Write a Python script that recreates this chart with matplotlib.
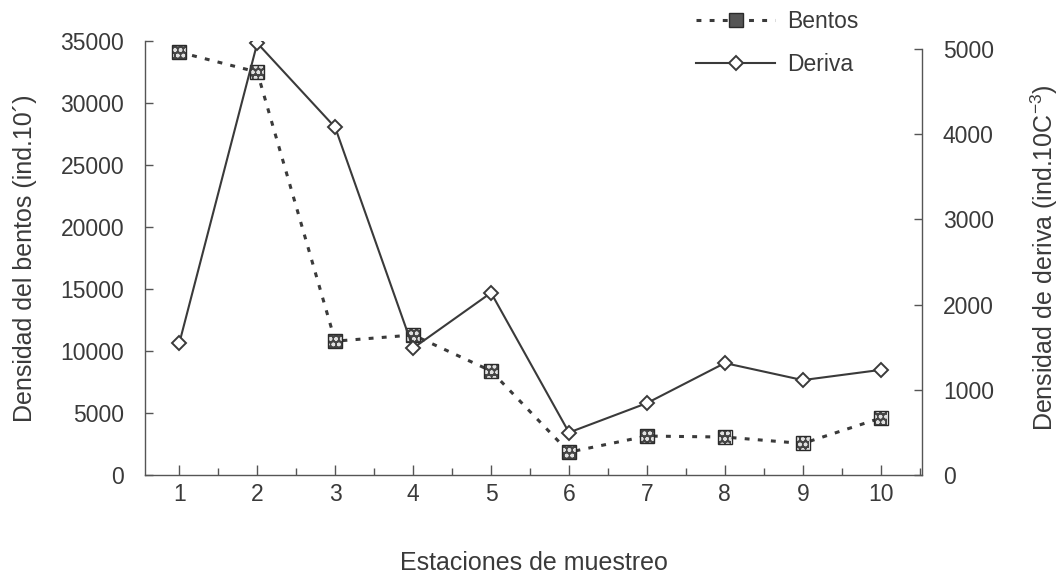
import matplotlib
matplotlib.use('Agg')
import matplotlib.pyplot as plt
from matplotlib.lines import Line2D
from matplotlib.ticker import MultipleLocator, FixedLocator

# sampling stations and densities
estaciones = [1, 2, 3, 4, 5, 6, 7, 8, 9, 10]
bentos = [34100, 32500, 10800, 11300, 8400, 1850, 3150, 3070, 2550, 4600]
deriva = [1550, 5070, 4080, 1490, 2140, 500, 845, 1315, 1115, 1235]

plt.rcParams['font.family'] = ['Liberation Sans', 'DejaVu Sans']
gris = '#3a3a3a'

fig = plt.figure(figsize=(10.61, 5.78), dpi=100)
ax = fig.add_axes([0.1367, 0.178, 0.7323, 0.751])
ax2 = ax.twinx()

# benthos: dotted line with dark checkered squares
ax.plot(estaciones, bentos, color=gris, lw=2.2, linestyle=(0, (1.6, 2.7)), zorder=2)
ax.scatter(estaciones, bentos, marker='s', s=90, facecolor='#454545',
           edgecolor='#e0e0e0', hatch='ooo', linewidths=0, zorder=3)
ax.plot(estaciones, bentos, linestyle='none', marker='s', ms=9.5,
        mfc='none', mec='#2a2a2a', mew=1.0, zorder=4)

# drift: solid line with open diamonds
ax2.plot(estaciones, deriva, color=gris, lw=1.5, marker='D', ms=7.5,
         mfc='white', mec=gris, mew=1.4, zorder=3)

ax.set_xlim(0.56, 10.53)
ax.set_ylim(0, 35000)
ax2.set_ylim(0, 5094)

ax.xaxis.set_major_locator(FixedLocator(estaciones))
ax.xaxis.set_minor_locator(FixedLocator([x + 0.5 for x in estaciones]))
ax.yaxis.set_major_locator(MultipleLocator(5000))
ax2.yaxis.set_major_locator(MultipleLocator(1000))

for a in (ax, ax2):
    a.spines['top'].set_visible(False)
    for s in a.spines.values():
        s.set_color('#555555')
        s.set_linewidth(1.0)
ax.spines['right'].set_visible(False)
ax2.spines['left'].set_visible(False)
ax2.spines['bottom'].set_visible(False)
ax2.spines['right'].set_bounds(0, 5000)

ax.tick_params(axis='x', which='major', direction='in', length=7, width=1,
               color='#555555', pad=6, labelsize=16.5, labelcolor=gris)
ax.tick_params(axis='x', which='minor', direction='in', length=5, width=1,
               color='#555555')
ax.tick_params(axis='y', direction='in', length=6, width=1, color='#555555',
               pad=15, labelsize=16.5, labelcolor=gris)
ax2.tick_params(axis='y', direction='in', length=6, width=1, color='#555555',
                pad=15, labelsize=16.5, labelcolor=gris)

ax.set_xlabel('Estaciones de muestreo', fontsize=18, color=gris, labelpad=32)
ax.set_ylabel('Densidad del bentos (ind.10´)', fontsize=18, color=gris, labelpad=17)
ax2.set_ylabel(r'Densidad de deriva (ind.10C$\mathregular{^{-3}}$)', fontsize=18,
               color=gris, labelpad=25)

handles = [
    Line2D([], [], color=gris, lw=2.2, linestyle=(0, (1.6, 2.7)), marker='s',
           ms=9.5, mfc='#555555', mec='#2a2a2a'),
    Line2D([], [], color=gris, lw=1.5, marker='D', ms=7.5, mfc='white',
           mec=gris, mew=1.4),
]
fig.legend(handles, ['Bentos', 'Deriva'], loc='upper left',
           bbox_to_anchor=(0.641, 1.01), frameon=False, fontsize=16.5,
           handlelength=3.45, handletextpad=0.5, labelspacing=0.85,
           numpoints=1, borderpad=0.2, labelcolor=gris)

fig.savefig('out.png', dpi=100)
